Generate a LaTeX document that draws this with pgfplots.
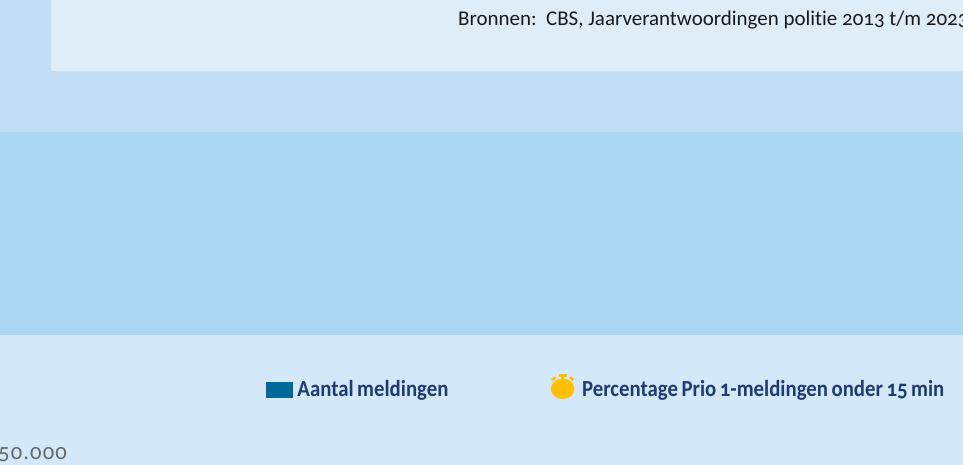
\documentclass[border=0pt]{standalone}
\usepackage{fontspec}
\usepackage{pgfplots}
\pgfplotsset{compat=1.18}
\setmainfont[Numbers=OldStyle,Ligatures=NoCommon]{Carlito}
\newfontfamily\legfont[Numbers=OldStyle,Ligatures=NoCommon,FakeStretch=0.905,WordSpace=0.75]{Carlito Bold}

\definecolor{paneltop}{HTML}{DFEDF9}
\definecolor{pagebg}{HTML}{C3DFF5}
\definecolor{band}{HTML}{ABD7F3}
\definecolor{chartbg}{HTML}{D3E9F9}
\definecolor{barblue}{HTML}{01689B}
\definecolor{clockyellow}{HTML}{FFC000}
\definecolor{legtext}{HTML}{1F3B73}
\definecolor{ticktext}{HTML}{666666}

\pgfplotsset{
    swatch/.style={legend image code/.code={
        \fill[barblue] (0pt,-7.5pt) rectangle (26pt,7.5pt);
    }},
    stopwatch/.style={legend image code/.code={
        \fill[clockyellow] (11.5pt,0.8pt) ellipse (11.5pt and 10pt);
        \fill[clockyellow] (8pt,13.5pt) rectangle (15pt,15.5pt);
        \fill[clockyellow] (10.5pt,9pt) rectangle (12.5pt,14pt);
        \fill[clockyellow,rotate around={40:(2.5pt,11pt)}] (0.5pt,10pt) rectangle (4.5pt,12pt);
        \fill[clockyellow,rotate around={-40:(20.5pt,11pt)}] (18.5pt,10pt) rectangle (22.5pt,12pt);
        \path[draw=none,fill=none] (23pt,0pt) -- (26pt,0pt);
    }},
}

\begin{document}
\begin{tikzpicture}
\path[use as bounding box] (0,0) rectangle (963pt,465pt);
\clip (0,0) rectangle (963pt,465pt);
\begin{axis}[
    scale only axis,
    axis on top,
    width=963pt,
    height=465pt,
    xmin=0, xmax=963,
    ymin=0, ymax=465,
    y dir=reverse,
    axis line style={draw=none},
    tick style={draw=none},
    xtick=\empty,
    ytick={452},
    yticklabels={50.000},
    /pgf/number format/assume math mode=true,
    yticklabel style={anchor=base west, xshift=-2pt, yshift=-7pt,
        font=\fontsize{22.6}{23}\selectfont\addfontfeature{LetterSpace=5}, text=ticktext, inner sep=0pt},
    legend columns=2,
    legend cell align=left,
    legend style={
        at={(axis cs:266,386.5)}, anchor=west,
        draw=none, fill=none, inner sep=0pt, outer sep=0pt,
        font=\fontsize{23}{24}\selectfont\legfont, text=legtext,
        nodes={inner sep=0pt},
        /tikz/every odd column/.append style={column sep=5pt},
        /tikz/every even column/.append style={column sep=102.5pt},
    },
]
\addplot[fill=pagebg, draw=none, forget plot] coordinates {(0,0) (963,0) (963,465) (0,465)} --cycle;
\addplot[fill=paneltop, draw=none, forget plot] coordinates {(51,0) (963,0) (963,71) (51,71)} --cycle;
\addplot[fill=band, draw=none, forget plot] coordinates {(0,132) (963,132) (963,335) (0,335)} --cycle;
\addplot[fill=chartbg, draw=none, forget plot] coordinates {(0,335) (963,335) (963,465) (0,465)} --cycle;

\addlegendimage{swatch}
\addlegendentry{Aantal meldingen}
\addlegendimage{stopwatch}
\addlegendentry{Percentage Prio 1-meldingen onder 15 min}

\node[anchor=base west, inner sep=0pt, font=\fontsize{20.95}{22}\selectfont, text=black!90]
    at (axis cs:458,26) {Bronnen:\ \ CBS, Jaarverantwoordingen politie 2013 t/m 2023};
\end{axis}
\end{tikzpicture}
\end{document}
